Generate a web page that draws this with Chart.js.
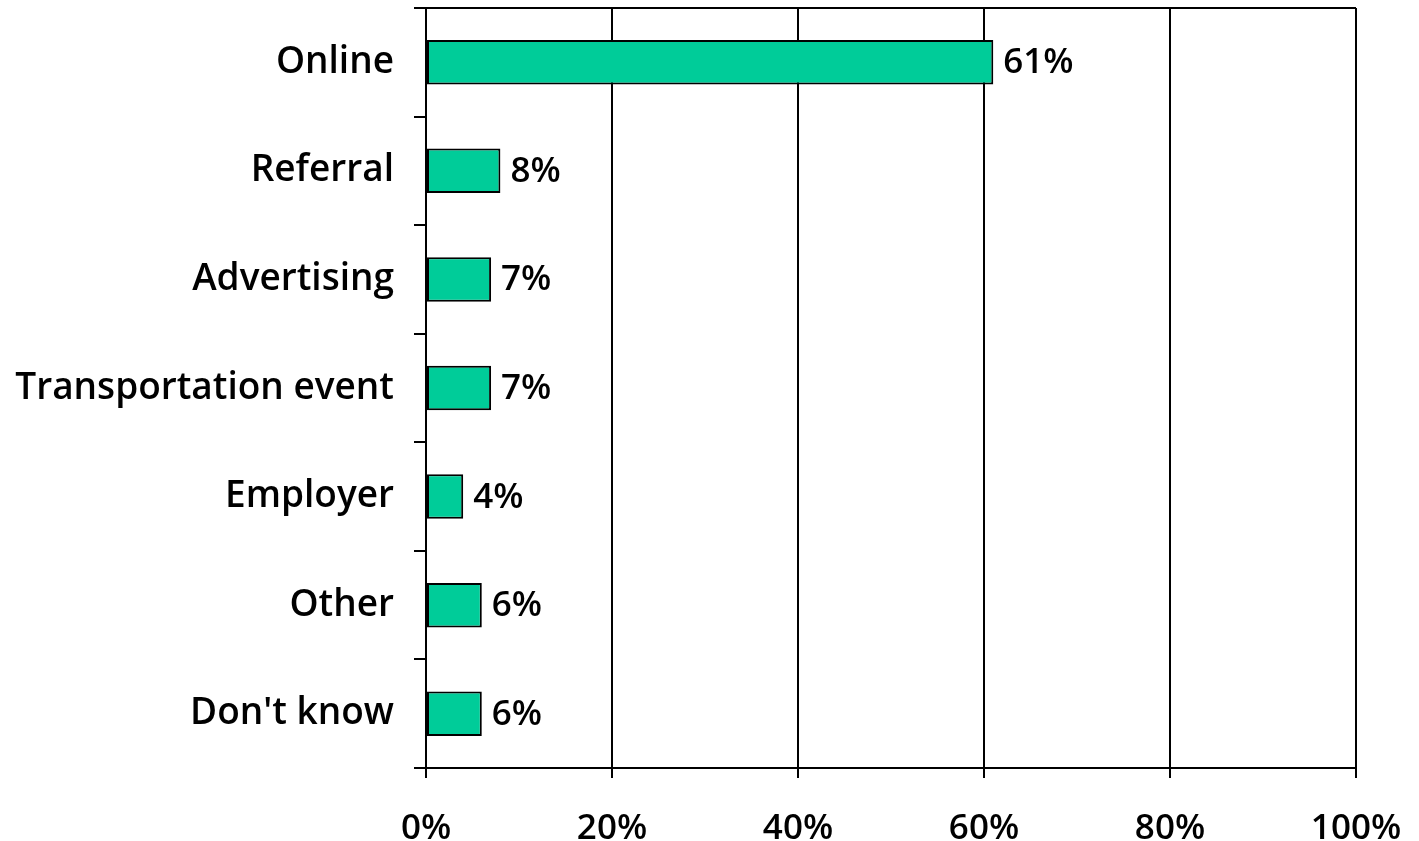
<!DOCTYPE html>
<html lang="en">
  <head>
    <meta charset="UTF-8" />
    <title>How did you hear about us</title>
    <script src="https://cdn.jsdelivr.net/npm/chart.js"></script>
    <style>
      body {
        margin: 0;
        background: #fff;
      }
      #wrap {
        width: 1419px;
        height: 841px;
      }
    </style>
  </head>
  <body>
    <div id="wrap">
      <canvas id="sourceChart"></canvas>
    </div>
    <script>
      // chart data
      const categories = [
        "Online",
        "Referral",
        "Advertising",
        "Transportation event",
        "Employer",
        "Other",
        "Don't know",
      ];
      const shares = [61, 8, 7, 7, 4, 6, 6];
      const xTicks = [0, 20, 40, 60, 80, 100];

      const catFont = { family: "Open Sans", size: 37, weight: "600" };
      const tickFont = { family: "Open Sans", size: 35, weight: "600" };

      // draws the % value to the right of each bar
      const valueLabels = {
        id: "valueLabels",
        afterDatasetsDraw(chart) {
          const ctx = chart.ctx;
          const meta = chart.getDatasetMeta(0);
          ctx.save();
          ctx.font = "600 35px 'Open Sans'";
          ctx.fillStyle = "#000";
          ctx.textBaseline = "middle";
          ctx.textAlign = "left";
          meta.data.forEach((bar, i) => {
            ctx.fillText(shares[i] + "%", bar.x + 10, bar.y + 1);
          });
          ctx.restore();
        },
      };

      // top border of the plot box
      const topLine = {
        id: "topLine",
        afterDraw(chart) {
          const a = chart.chartArea;
          const ctx = chart.ctx;
          ctx.save();
          ctx.strokeStyle = "#000";
          ctx.lineWidth = 2;
          ctx.beginPath();
          ctx.moveTo(a.left - 12, a.top);
          ctx.lineTo(a.right, a.top);
          ctx.stroke();
          ctx.restore();
        },
      };

      new Chart(document.getElementById("sourceChart"), {
        type: "bar",
        data: {
          labels: categories,
          datasets: [
            {
              data: shares,
              backgroundColor: "#00CC99",
              borderColor: "#000",
              borderWidth: 2,
              borderSkipped: false,
              barPercentage: 0.41,
              categoryPercentage: 1,
            },
          ],
        },
        options: {
          indexAxis: "y",
          responsive: true,
          maintainAspectRatio: false,
          animation: false,
          layout: { padding: { top: 8, right: 63, left: 0, bottom: 0 } },
          plugins: {
            legend: { display: false },
            tooltip: { enabled: false },
          },
          scales: {
            x: {
              min: 0,
              max: 100,
              afterBuildTicks: (scale) => {
                scale.ticks = xTicks.map((v) => ({ value: v }));
              },
              afterFit: (scale) => {
                scale.height = 73;
                scale.paddingLeft = 0;
                scale.paddingRight = 0;
              },
              grid: {
                color: "#000",
                lineWidth: 2,
                tickLength: 10,
              },
              border: { color: "#000", width: 2 },
              ticks: {
                color: "#000",
                font: tickFont,
                padding: 30,
                callback: (v) => v + "%",
                maxRotation: 0,
              },
            },
            y: {
              afterFit: (scale) => {
                scale.width = 426;
                scale.paddingTop = 0;
                scale.paddingBottom = 0;
              },
              grid: {
                offset: true,
                drawOnChartArea: false,
                color: "#000",
                lineWidth: 2,
                tickLength: 12,
              },
              border: { color: "#000", width: 2 },
              ticks: {
                color: "#000",
                font: catFont,
                padding: 20,
              },
            },
          },
        },
        plugins: [valueLabels, topLine],
      });
    </script>
  </body>
</html>
